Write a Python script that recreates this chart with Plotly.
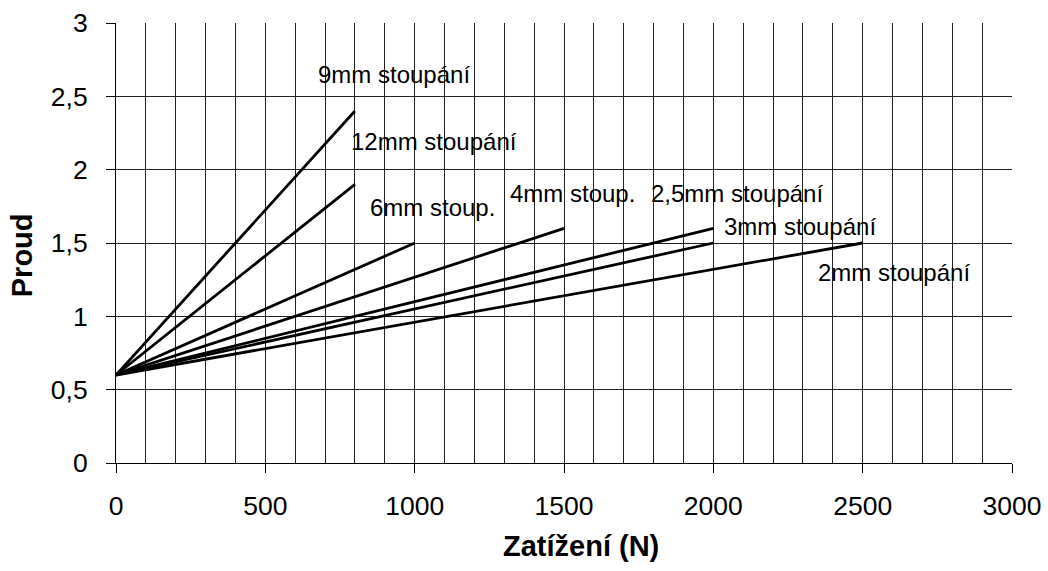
import plotly.graph_objects as go

# Data
series_names = ["9mm stoupání", "12mm stoupání", "6mm stoup.", "4mm stoup.",
                "2,5mm stoupání", "3mm stoupání", "2mm stoupání"]
start_load = [0, 0, 0, 0, 0, 0, 0]
end_load = [800, 800, 1000, 1500, 2000, 2000, 2500]
start_current = [0.6, 0.6, 0.6, 0.6, 0.6, 0.6, 0.6]
end_current = [2.4, 1.9, 1.5, 1.6, 1.6, 1.5, 1.5]

x_ticks = [0, 500, 1000, 1500, 2000, 2500, 3000]
x_tick_labels = ["0", "500", "1000", "1500", "2000", "2500", "3000"]
y_ticks = [0, 0.5, 1, 1.5, 2, 2.5, 3]
y_tick_labels = ["0", "0,5", "1", "1,5", "2", "2,5", "3"]

# label placement (layout)
label_x = [671, 781, 845, 1313, 1785, 2030, 2344]
label_y = [2.647, 2.19, 1.74, 1.84, 1.84, 1.61, 1.30]

FONT = "Liberation Sans, Arial, sans-serif"

fig = go.Figure()
for i, name in enumerate(series_names):
    fig.add_trace(go.Scatter(
        x=[start_load[i], end_load[i]],
        y=[start_current[i], end_current[i]],
        mode="lines", name=name,
        line=dict(color="black", width=2.8),
        showlegend=False,
    ))
    fig.add_annotation(x=label_x[i], y=label_y[i], text=name, showarrow=False,
                       xanchor="left", yanchor="middle",
                       font=dict(family=FONT, size=24, color="black"))

fig.add_annotation(xref="paper", yref="paper", x=0.519, y=-0.188, text="<b>Zatížení (N)</b>",
                   showarrow=False, xanchor="center", yanchor="middle",
                   font=dict(family=FONT, size=29, color="black"))
fig.add_annotation(xref="paper", yref="paper", x=-0.105, y=0.472, text="<b>Proud</b>",
                   showarrow=False, xanchor="center", yanchor="middle", textangle=-90,
                   font=dict(family=FONT, size=29, color="black"))

fig.update_xaxes(range=[0, 3000], tickvals=x_ticks, ticktext=x_tick_labels,
                 showline=True, linecolor="black", linewidth=1,
                 ticks="outside", ticklen=9, tickcolor="black",
                 showgrid=True, gridcolor="#222", gridwidth=1,
                 minor=dict(dtick=100, showgrid=True, gridcolor="#222", gridwidth=1),
                 zeroline=False, ticklabelstandoff=10, automargin=False,
                 tickfont=dict(family=FONT, size=26.5, color="black"))
fig.update_yaxes(range=[0, 3], tickvals=y_ticks, ticktext=y_tick_labels,
                 showline=True, linecolor="black", linewidth=1,
                 ticks="outside", ticklen=9, tickcolor="black",
                 showgrid=True, gridcolor="#222", gridwidth=1,
                 zeroline=False, ticklabelstandoff=13, automargin=False,
                 tickfont=dict(family=FONT, size=26.5, color="black"))

fig.update_layout(width=1048, height=571,
                  margin=dict(l=116, r=36, t=23, b=108, autoexpand=False),
                  paper_bgcolor="white", plot_bgcolor="white",
                  font=dict(family=FONT, color="black"))

fig.write_html("out.html", config={"displayModeBar": False},
               post_script="document.body.style.margin='0';")
